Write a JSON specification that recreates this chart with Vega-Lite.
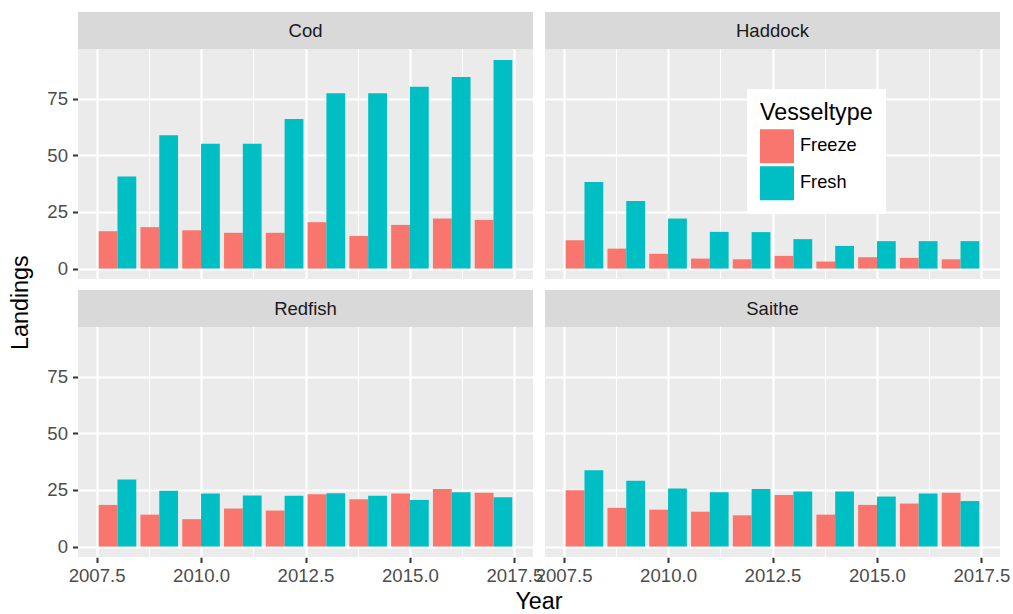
{
  "$schema": "https://vega.github.io/schema/vega-lite/v6.json",
  "padding": {"left": 8, "top": 12, "right": 0, "bottom": 0},
  "background": "white",
  "data": {
    "values": [
      {"Species": "Cod", "Year": 2008, "Vesseltype": "Freeze", "Landings": 16.5},
      {"Species": "Cod", "Year": 2008, "Vesseltype": "Fresh", "Landings": 40.7},
      {"Species": "Cod", "Year": 2009, "Vesseltype": "Freeze", "Landings": 18.3},
      {"Species": "Cod", "Year": 2009, "Vesseltype": "Fresh", "Landings": 58.9},
      {"Species": "Cod", "Year": 2010, "Vesseltype": "Freeze", "Landings": 16.9},
      {"Species": "Cod", "Year": 2010, "Vesseltype": "Fresh", "Landings": 55.1},
      {"Species": "Cod", "Year": 2011, "Vesseltype": "Freeze", "Landings": 15.8},
      {"Species": "Cod", "Year": 2011, "Vesseltype": "Fresh", "Landings": 55.1},
      {"Species": "Cod", "Year": 2012, "Vesseltype": "Freeze", "Landings": 15.8},
      {"Species": "Cod", "Year": 2012, "Vesseltype": "Fresh", "Landings": 66.1},
      {"Species": "Cod", "Year": 2013, "Vesseltype": "Freeze", "Landings": 20.5},
      {"Species": "Cod", "Year": 2013, "Vesseltype": "Fresh", "Landings": 77.5},
      {"Species": "Cod", "Year": 2014, "Vesseltype": "Freeze", "Landings": 14.4},
      {"Species": "Cod", "Year": 2014, "Vesseltype": "Fresh", "Landings": 77.5},
      {"Species": "Cod", "Year": 2015, "Vesseltype": "Freeze", "Landings": 19.3},
      {"Species": "Cod", "Year": 2015, "Vesseltype": "Fresh", "Landings": 80.3},
      {"Species": "Cod", "Year": 2016, "Vesseltype": "Freeze", "Landings": 22.1},
      {"Species": "Cod", "Year": 2016, "Vesseltype": "Fresh", "Landings": 84.7},
      {"Species": "Cod", "Year": 2017, "Vesseltype": "Freeze", "Landings": 21.5},
      {"Species": "Cod", "Year": 2017, "Vesseltype": "Fresh", "Landings": 92.2},
      {"Species": "Haddock", "Year": 2008, "Vesseltype": "Freeze", "Landings": 12.5},
      {"Species": "Haddock", "Year": 2008, "Vesseltype": "Fresh", "Landings": 38.2},
      {"Species": "Haddock", "Year": 2009, "Vesseltype": "Freeze", "Landings": 8.8},
      {"Species": "Haddock", "Year": 2009, "Vesseltype": "Fresh", "Landings": 29.8},
      {"Species": "Haddock", "Year": 2010, "Vesseltype": "Freeze", "Landings": 6.5},
      {"Species": "Haddock", "Year": 2010, "Vesseltype": "Fresh", "Landings": 22.1},
      {"Species": "Haddock", "Year": 2011, "Vesseltype": "Freeze", "Landings": 4.4},
      {"Species": "Haddock", "Year": 2011, "Vesseltype": "Fresh", "Landings": 16.2},
      {"Species": "Haddock", "Year": 2012, "Vesseltype": "Freeze", "Landings": 4.1},
      {"Species": "Haddock", "Year": 2012, "Vesseltype": "Fresh", "Landings": 16.1},
      {"Species": "Haddock", "Year": 2013, "Vesseltype": "Freeze", "Landings": 5.6},
      {"Species": "Haddock", "Year": 2013, "Vesseltype": "Fresh", "Landings": 13.0},
      {"Species": "Haddock", "Year": 2014, "Vesseltype": "Freeze", "Landings": 3.1},
      {"Species": "Haddock", "Year": 2014, "Vesseltype": "Fresh", "Landings": 10.0},
      {"Species": "Haddock", "Year": 2015, "Vesseltype": "Freeze", "Landings": 5.0},
      {"Species": "Haddock", "Year": 2015, "Vesseltype": "Fresh", "Landings": 12.1},
      {"Species": "Haddock", "Year": 2016, "Vesseltype": "Freeze", "Landings": 4.7},
      {"Species": "Haddock", "Year": 2016, "Vesseltype": "Fresh", "Landings": 12.1},
      {"Species": "Haddock", "Year": 2017, "Vesseltype": "Freeze", "Landings": 4.1},
      {"Species": "Haddock", "Year": 2017, "Vesseltype": "Fresh", "Landings": 12.1},
      {"Species": "Redfish", "Year": 2008, "Vesseltype": "Freeze", "Landings": 18.4},
      {"Species": "Redfish", "Year": 2008, "Vesseltype": "Fresh", "Landings": 29.6},
      {"Species": "Redfish", "Year": 2009, "Vesseltype": "Freeze", "Landings": 14.1},
      {"Species": "Redfish", "Year": 2009, "Vesseltype": "Fresh", "Landings": 24.7},
      {"Species": "Redfish", "Year": 2010, "Vesseltype": "Freeze", "Landings": 12.1},
      {"Species": "Redfish", "Year": 2010, "Vesseltype": "Fresh", "Landings": 23.4},
      {"Species": "Redfish", "Year": 2011, "Vesseltype": "Freeze", "Landings": 16.8},
      {"Species": "Redfish", "Year": 2011, "Vesseltype": "Fresh", "Landings": 22.6},
      {"Species": "Redfish", "Year": 2012, "Vesseltype": "Freeze", "Landings": 15.9},
      {"Species": "Redfish", "Year": 2012, "Vesseltype": "Fresh", "Landings": 22.4},
      {"Species": "Redfish", "Year": 2013, "Vesseltype": "Freeze", "Landings": 23.1},
      {"Species": "Redfish", "Year": 2013, "Vesseltype": "Fresh", "Landings": 23.5},
      {"Species": "Redfish", "Year": 2014, "Vesseltype": "Freeze", "Landings": 20.9},
      {"Species": "Redfish", "Year": 2014, "Vesseltype": "Fresh", "Landings": 22.4},
      {"Species": "Redfish", "Year": 2015, "Vesseltype": "Freeze", "Landings": 23.4},
      {"Species": "Redfish", "Year": 2015, "Vesseltype": "Fresh", "Landings": 20.6},
      {"Species": "Redfish", "Year": 2016, "Vesseltype": "Freeze", "Landings": 25.4},
      {"Species": "Redfish", "Year": 2016, "Vesseltype": "Fresh", "Landings": 24.0},
      {"Species": "Redfish", "Year": 2017, "Vesseltype": "Freeze", "Landings": 23.8},
      {"Species": "Redfish", "Year": 2017, "Vesseltype": "Fresh", "Landings": 21.8},
      {"Species": "Saithe", "Year": 2008, "Vesseltype": "Freeze", "Landings": 24.9},
      {"Species": "Saithe", "Year": 2008, "Vesseltype": "Fresh", "Landings": 33.7},
      {"Species": "Saithe", "Year": 2009, "Vesseltype": "Freeze", "Landings": 17.1},
      {"Species": "Saithe", "Year": 2009, "Vesseltype": "Fresh", "Landings": 29.1},
      {"Species": "Saithe", "Year": 2010, "Vesseltype": "Freeze", "Landings": 16.3},
      {"Species": "Saithe", "Year": 2010, "Vesseltype": "Fresh", "Landings": 25.6},
      {"Species": "Saithe", "Year": 2011, "Vesseltype": "Freeze", "Landings": 15.4},
      {"Species": "Saithe", "Year": 2011, "Vesseltype": "Fresh", "Landings": 24.0},
      {"Species": "Saithe", "Year": 2012, "Vesseltype": "Freeze", "Landings": 13.8},
      {"Species": "Saithe", "Year": 2012, "Vesseltype": "Fresh", "Landings": 25.4},
      {"Species": "Saithe", "Year": 2013, "Vesseltype": "Freeze", "Landings": 22.8},
      {"Species": "Saithe", "Year": 2013, "Vesseltype": "Fresh", "Landings": 24.3},
      {"Species": "Saithe", "Year": 2014, "Vesseltype": "Freeze", "Landings": 14.1},
      {"Species": "Saithe", "Year": 2014, "Vesseltype": "Fresh", "Landings": 24.3},
      {"Species": "Saithe", "Year": 2015, "Vesseltype": "Freeze", "Landings": 18.4},
      {"Species": "Saithe", "Year": 2015, "Vesseltype": "Fresh", "Landings": 22.1},
      {"Species": "Saithe", "Year": 2016, "Vesseltype": "Freeze", "Landings": 19.0},
      {"Species": "Saithe", "Year": 2016, "Vesseltype": "Fresh", "Landings": 23.4},
      {"Species": "Saithe", "Year": 2017, "Vesseltype": "Freeze", "Landings": 23.8},
      {"Species": "Saithe", "Year": 2017, "Vesseltype": "Fresh", "Landings": 20.1}
    ]
  },
  "title": {
    "text": "Landings",
    "orient": "left",
    "anchor": "middle",
    "fontSize": 23.3,
    "fontWeight": "normal",
    "color": "black",
    "offset": 14,
    "dx": 10
  },
  "facet": {
    "field": "Species",
    "type": "nominal",
    "title": "Year",
    "header": {
      "labelExpr": "''",
      "labelFontSize": 0,
      "labelPadding": 0,
      "titleOrient": "bottom",
      "titleFontSize": 23.3,
      "titleFontWeight": "normal",
      "titleColor": "black",
      "titlePadding": 5
    }
  },
  "columns": 2,
  "spacing": {"row": 11, "column": 12},
  "spec": {
    "width": 455,
    "height": 267,
    "layer": [
      {
        "transform": [{"filter": "datum.Vesseltype === 'Freeze'"}],
        "mark": {"type": "bar", "width": 18.8, "xOffset": -9.4},
        "encoding": {
          "x": {
            "field": "Year",
            "type": "quantitative",
            "scale": {"domain": [2007.055, 2017.945], "nice": false, "zero": false, "padding": 0},
            "axis": {
              "values": [2007.5, 2008.75, 2010, 2011.25, 2012.5, 2013.75, 2015, 2016.25, 2017.5],
              "format": ".1f",
              "labelExpr": "(datum.value - 2007.5) % 2.5 === 0 ? datum.label : ''",
              "gridWidth": {"condition": {"test": "(datum.value - 2007.5) % 2.5 === 0", "value": 2.2}, "value": 1.1},
              "tickColor": {"condition": {"test": "(datum.value - 2007.5) % 2.5 === 0", "value": "#333333"}, "value": "transparent"},
              "labelPadding": 4,
              "labelOverlap": false,
              "labelFlush": false
            }
          },
          "y": {
            "field": "Landings",
            "type": "quantitative",
            "scale": {"domain": [-4.62, 113.38], "nice": false, "zero": false, "padding": 0},
            "axis": {
              "values": [0, 12.5, 25, 37.5, 50, 62.5, 75, 87.5],
              "labelExpr": "datum.value % 25 === 0 ? datum.label : ''",
              "gridWidth": {"condition": {"test": "datum.value % 25 === 0", "value": 2.2}, "value": 1.1},
              "tickColor": {"condition": {"test": "datum.value % 25 === 0", "value": "#333333"}, "value": "transparent"},
              "labelPadding": 5
            }
          },
          "y2": {"datum": 0},
          "color": {
            "field": "Vesseltype",
            "type": "nominal",
            "scale": {"domain": ["Freeze", "Fresh"], "range": ["#F8766D", "#00BFC4"]},
            "legend": {
              "title": "Vesseltype",
              "orient": "none",
              "legendX": 669,
              "legendY": 77,
              "fillColor": "white",
              "padding": 13,
              "titleFontSize": 23.3,
              "titleFontWeight": "normal",
              "titleColor": "black",
              "titlePadding": 4,
              "labelFontSize": 18.2,
              "labelColor": "black",
              "labelOffset": 6,
              "symbolType": "square",
              "symbolSize": 1156,
              "symbolStrokeWidth": 0,
              "symbolOpacity": 1,
              "rowPadding": 3
            }
          }
        }
      },
      {
        "transform": [{"filter": "datum.Vesseltype === 'Fresh'"}],
        "mark": {"type": "bar", "width": 18.8, "xOffset": 9.4},
        "encoding": {
          "x": {"field": "Year", "type": "quantitative"},
          "y": {"field": "Landings", "type": "quantitative"},
          "y2": {"datum": 0},
          "color": {"field": "Vesseltype", "type": "nominal"}
        }
      },
      {
        "transform": [{"aggregate": [{"op": "count", "as": "n"}], "groupby": ["Species"]}],
        "mark": {"type": "rect", "color": "#D9D9D9"},
        "encoding": {
          "x": {"datum": 2007.055},
          "x2": {"datum": 2017.945},
          "y": {"datum": 97.03},
          "y2": {"datum": 113.38}
        }
      },
      {
        "transform": [{"aggregate": [{"op": "count", "as": "n"}], "groupby": ["Species"]}],
        "mark": {"type": "text", "fontSize": 18.5, "color": "#1A1A1A", "baseline": "middle", "align": "center"},
        "encoding": {
          "text": {"field": "Species"},
          "x": {"datum": 2012.5},
          "y": {"datum": 105.2}
        }
      }
    ]
  },
  "config": {
    "font": "Liberation Sans",
    "view": {"fill": "#EBEBEB", "stroke": null},
    "axis": {
      "domain": false,
      "title": null,
      "gridColor": "white",
      "labelColor": "#4D4D4D",
      "labelFontSize": 18.6,
      "tickSize": 5.5,
      "tickWidth": 2
    }
  }
}
